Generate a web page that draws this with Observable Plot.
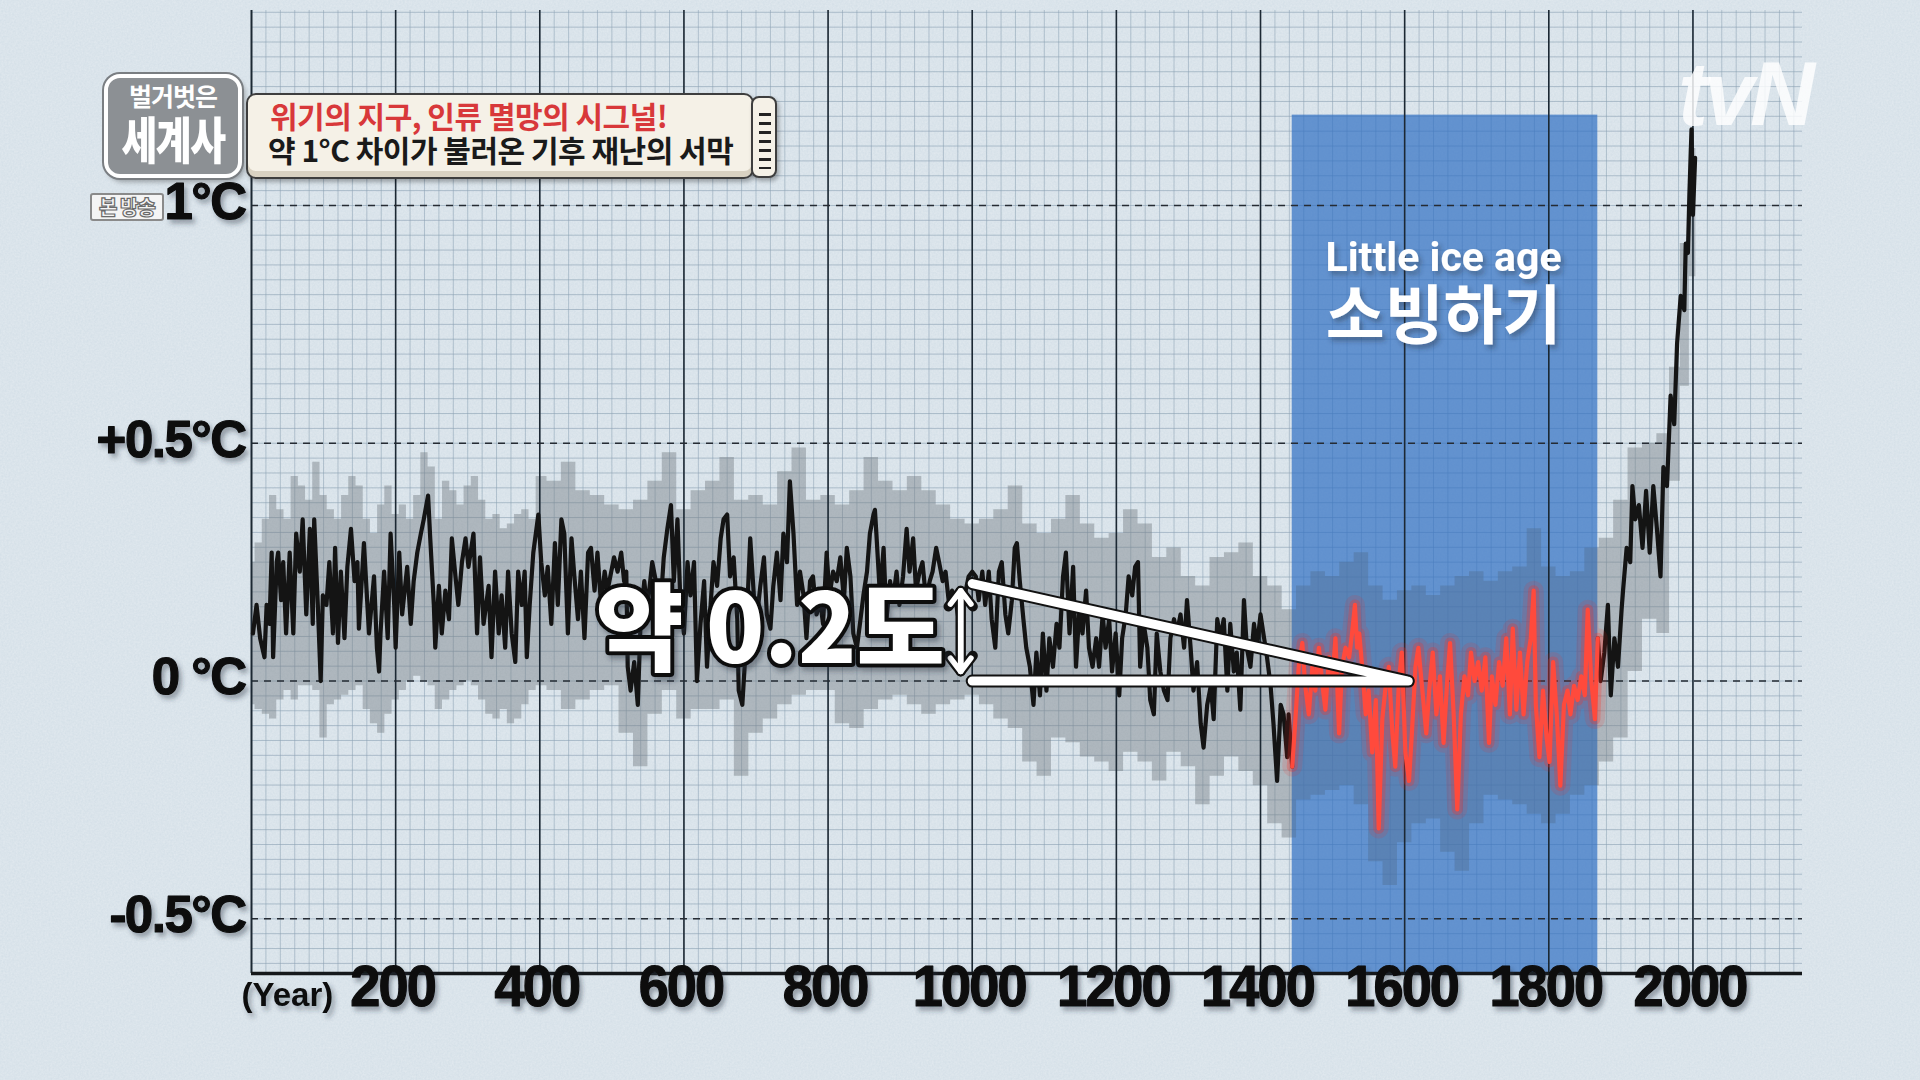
<!DOCTYPE html>
<html><head><meta charset="utf-8">
<script src="https://cdn.jsdelivr.net/npm/d3@7"></script>
<script src="https://cdn.jsdelivr.net/npm/@observablehq/plot@0.6"></script>
<style>
html,body{margin:0;padding:0;width:1920px;height:1080px;overflow:hidden;background:#d5e0e8;}
#wrap{position:relative;width:1920px;height:1080px;
  background-color:#d5e0e8;
  background-image:url("data:image/svg+xml;utf8,<svg xmlns='http://www.w3.org/2000/svg' width='480' height='480'><filter id='n'><feTurbulence type='fractalNoise' baseFrequency='0.55' numOctaves='3' stitchTiles='stitch'/><feColorMatrix values='0 0 0 0 1  0 0 0 0 1  0 0 0 0 1  0 0 0 0.35 -0.05'/></filter><rect width='100%' height='100%' filter='url(%23n)'/></svg>");}
#chart{position:absolute;left:0;top:0;}
.ov{position:absolute;box-sizing:border-box;}
#badge{left:104px;top:74px;width:138px;height:104px;background:#8c9094;border:4px solid #ffffff;border-radius:16px;
  box-shadow:0 0 0 2px #7a7e82, 3px 4px 5px rgba(0,0,0,0.3);text-align:center;color:#fff;font-family:"Noto Sans CJK KR";overflow:hidden;}
#badge .t1{font-size:25px;font-weight:700;line-height:26px;margin-top:4px;letter-spacing:-1px;white-space:nowrap;}
#badge .t2{font-size:50px;font-weight:900;line-height:58px;white-space:nowrap;transform:scaleX(0.78);letter-spacing:-2px;margin-left:-20px;margin-right:-20px;}
#onair{left:90px;top:193px;width:74px;height:28px;background:#f4f4f4;border:2px solid #8a8a8a;border-radius:3px;
  font-family:"Noto Sans CJK KR";font-weight:900;font-size:20px;line-height:23px;text-align:center;color:#f4f4f4;
  -webkit-text-stroke:1.2px #6a6a6a;letter-spacing:-1px;white-space:nowrap;}
#caption{left:246px;top:93px;width:508px;height:86px;background:#f5f1e7;border:2px solid #3e3e3e;border-radius:10px;
  box-shadow:inset 0 -6px 0 #d9d2c2, 2px 3px 4px rgba(0,0,0,0.3);font-family:"Noto Sans CJK KR";font-weight:700;}
#caption .c1{position:absolute;left:22px;top:4px;font-size:30px;line-height:32px;color:#d8383a;white-space:nowrap;letter-spacing:-0.5px;}
#caption .c2{position:absolute;left:20px;top:38px;font-size:30px;line-height:32px;color:#1a1a1a;white-space:nowrap;letter-spacing:-0.5px;}
#tab{left:751px;top:96px;width:26px;height:82px;background:#f5f1e7;border:2px solid #3e3e3e;border-radius:8px;
  background-image:repeating-linear-gradient(to bottom,transparent 0 6px,#222 6px 9px);background-size:12px 62px;background-repeat:no-repeat;background-position:6px 9px;
  box-shadow:2px 3px 4px rgba(0,0,0,0.3);}
#tvn{left:1678px;top:50px;font-family:"Liberation Sans",Arial,sans-serif;font-style:italic;font-weight:700;font-size:90px;
  color:rgba(255,255,255,0.82);letter-spacing:-4px;line-height:88px;}
</style></head>
<body><div id="wrap"><div id="chart"></div>
<div class="ov" id="badge"><div class="t1">벌거벗은</div><div class="t2">세계사</div></div>
<div class="ov" id="onair">본 방송</div>
<div class="ov" id="caption"><div class="c1">위기의 지구, 인류 멸망의 시그널!</div><div class="c2">약 1°C 차이가 불러온 기후 재난의 서막</div></div>
<div class="ov" id="tab"></div>
<div class="ov" id="tvn">tvN</div>
</div>
<script>
// ---- data ----
const tempSeries = [
[2,0.10],[7,0.16],[12,0.09],[18,0.05],[21,0.16],[25,0.12],[28,0.27],[30,0.05],[35,0.25],[37,0.27],[41,0.17],[44,0.25],[48,0.10],[53,0.27],[58,0.10],[62,0.31],[67,0.23],[71,0.34],[76,0.14],[81,0.32],[85,0.12],[87,0.34],[92,0.16],[96,0.00],[99,0.18],[104,0.16],[108,0.25],[113,0.10],[116,0.28],[120,0.08],[124,0.23],[129,0.09],[133,0.24],[138,0.32],[143,0.21],[147,0.25],[149,0.11],[156,0.29],[163,0.10],[170,0.22],[174,0.07],[177,0.02],[179,0.10],[184,0.23],[189,0.09],[193,0.31],[198,0.16],[200,0.07],[205,0.27],[209,0.14],[216,0.24],[221,0.12],[225,0.21],[230,0.27],[235,0.31],[239,0.34],[245,0.39],[248,0.30],[253,0.16],[255,0.07],[260,0.20],[264,0.10],[269,0.19],[274,0.13],[278,0.30],[283,0.22],[287,0.16],[292,0.25],[297,0.30],[301,0.24],[308,0.31],[313,0.10],[317,0.26],[322,0.12],[329,0.20],[333,0.05],[338,0.23],[343,0.10],[347,0.18],[352,0.07],[356,0.23],[361,0.10],[366,0.04],[370,0.23],[375,0.16],[379,0.23],[382,0.05],[386,0.16],[391,0.27],[398,0.35],
[402,0.25],[407,0.18],[411,0.24],[416,0.12],[421,0.29],[425,0.16],[430,0.34],[434,0.31],[439,0.10],[444,0.30],[448,0.22],[453,0.13],[457,0.23],[462,0.09],[467,0.27],[471,0.28],[476,0.19],[480,0.27],[485,0.16],[490,0.23],[494,0.19],[503,0.26],[508,0.23],[513,0.27],[517,0.21],[520,0.23],[522,0.03],[526,-0.02],[531,0.04],[536,-0.05],[540,0.13],[545,0.21],[549,0.15],[556,0.25],[561,0.21],[566,0.12],[572,0.26],[577,0.32],[582,0.37],[586,0.21],[591,0.34],[595,0.17],[600,0.10],[605,0.25],[609,0.18],[614,0.25],[618,0.00],[623,0.12],[628,0.21],[632,0.03],[637,0.16],[641,0.25],[646,0.20],[651,0.30],[655,0.34],[660,0.35],[664,0.22],[669,0.26],[674,0.13],[676,-0.02],[681,-0.05],[685,0.05],[690,0.23],[692,0.30],[697,0.18],[701,0.13],[706,0.20],[711,0.26],[715,0.14],[720,0.11],[724,0.20],[729,0.27],[734,0.17],[738,0.31],[743,0.25],[747,0.42],[752,0.31],[757,0.16],[761,0.23],[766,0.18],[770,0.09],[775,0.21],[779,0.22],[784,0.14],[789,0.17],[793,0.12],[798,0.27],[802,0.18],[807,0.23],
[812,0.21],[817,0.26],[822,0.17],[826,0.28],[831,0.22],[835,0.10],[840,0.07],[845,0.13],[849,0.18],[854,0.23],[858,0.31],[863,0.35],[865,0.36],[867,0.31],[872,0.18],[877,0.28],[881,0.13],[886,0.21],[890,0.17],[895,0.23],[899,0.16],[904,0.22],[909,0.32],[913,0.23],[918,0.30],[922,0.19],[927,0.23],[931,0.25],[936,0.17],[941,0.21],[945,0.23],[950,0.28],[954,0.25],[959,0.21],[963,0.23],[968,0.16],[972,0.19],[977,0.17],[981,0.13],[986,0.16],[991,0.19],[995,0.22],[1000,0.23],[1005,0.22],[1009,0.17],[1014,0.23],[1018,0.16],[1023,0.23],[1027,0.13],[1032,0.07],[1037,0.23],[1041,0.25],[1046,0.14],[1050,0.10],[1055,0.17],[1059,0.28],[1062,0.29],[1066,0.21],[1071,0.13],[1075,0.07],[1080,0.03],[1085,-0.05],[1089,0.06],[1094,-0.03],[1098,0.10],[1103,-0.02],[1107,0.09],[1112,0.03],[1117,0.12],[1121,0.07],[1126,0.22],[1130,0.27],[1135,0.10],[1140,0.24],[1144,0.03],[1149,0.16],[1153,0.10],[1158,0.19],[1162,0.07],[1167,0.03],[1172,0.09],[1176,0.03],[1181,0.14],[1185,0.07],[1190,0.13],[1194,0.02],[1199,0.10],[1204,-0.03],[1208,0.09],[1213,0.14],[1217,0.22],
[1222,0.18],[1226,0.24],[1230,0.25],[1233,0.03],[1238,0.12],[1243,0.07],[1247,-0.04],[1252,-0.07],[1256,0.10],[1261,0.02],[1266,-0.02],[1271,-0.04],[1275,0.09],[1280,0.13],[1284,0.10],[1289,0.14],[1294,0.07],[1298,0.17],[1303,0.07],[1307,-0.02],[1312,0.04],[1317,-0.09],[1321,-0.14],[1326,-0.05],[1331,-0.01],[1335,-0.08],[1340,0.13],[1344,0.09],[1349,0.13],[1354,-0.02],[1358,0.12],[1363,0.02],[1367,0.06],[1372,-0.06],[1377,0.17],[1381,0.07],[1386,0.03],[1391,0.12],[1395,0.07],[1400,0.14],[1405,0.09],[1409,0.05],[1414,-0.01],[1418,-0.09],[1423,-0.21],[1428,-0.05],[1432,-0.07],[1437,-0.16],[1439,-0.07],[1444,-0.18],
[1448,-0.09],[1453,0.03],[1458,0.08],[1462,-0.01],[1467,-0.07],[1472,0.03],[1476,-0.02],[1481,0.07],[1486,-0.01],[1490,-0.06],[1495,0.05],[1499,-0.01],[1504,0.09],[1509,-0.11],[1513,0.03],[1518,0.07],[1523,0.05],[1527,0.10],[1531,0.16],[1534,0.07],[1537,0.10],[1541,0.03],[1546,-0.07],[1550,-0.02],[1555,-0.15],[1560,-0.04],[1564,-0.31],[1569,-0.08],[1573,-0.02],[1578,0.03],[1583,-0.11],[1587,-0.18],[1592,0.00],[1596,0.06],[1601,-0.15],[1606,-0.21],[1610,-0.11],[1615,0.03],[1619,0.07],[1624,-0.01],
[1630,-0.11],[1634,-0.02],[1639,0.06],[1644,-0.07],[1649,0.01],[1654,-0.13],[1659,0.00],[1663,0.08],[1668,-0.07],[1673,-0.27],[1678,-0.07],[1683,0.01],[1688,-0.03],[1692,0.06],[1697,0.00],[1702,0.04],[1707,-0.02],[1712,0.05],[1717,-0.13],[1721,0.01],[1726,-0.05],[1731,0.04],[1736,-0.01],[1741,0.09],[1746,-0.07],[1750,0.11],[1755,-0.06],[1760,0.06],[1765,-0.07],[1770,0.04],[1775,0.09],[1779,0.19],[1782,-0.05],[1787,-0.16],[1792,-0.02],[1797,-0.12],[1801,-0.17],[1806,0.04],[1811,-0.07],[1816,-0.22],[1821,-0.05],[1826,-0.02],[1830,-0.07],[1835,-0.01],[1840,-0.04],[1845,0.01],[1850,-0.03],[1854,0.15],[1859,0.00],[1864,-0.08],[1868,0.09],
[1872,0.00],[1877,0.06],[1882,0.16],[1886,-0.03],[1891,0.09],[1896,0.03],[1901,0.15],[1903,0.19],[1908,0.28],[1913,0.25],[1916,0.41],[1920,0.34],[1925,0.37],[1930,0.28],[1935,0.40],[1940,0.27],[1945,0.41],[1950,0.32],[1955,0.22],[1959,0.45],[1964,0.41],[1969,0.60],[1974,0.54],[1978,0.71],[1983,0.81],[1988,0.78],[1990,0.92],[1993,0.90],[1995,1.02],[1998,1.16],[2000,0.98],[2003,1.10]
];

const bandYears = [0,10,20,30,40,50,60,70,80,90,100,110,120,130,140,150,160,170,180,190,200,210,220,230,240,250,260,270,280,290,300,310,320,330,340,350,360,370,380,390,400,420,440,460,480,500,520,540,560,580,600,620,640,660,680,700,720,740,760,780,800,820,840,860,880,900,920,940,960,980,1000,1020,1040,1060,1080,1100,1120,1140,1160,1180,1200,1220,1240,1260,1280,1300,1320,1340,1360,1380,1400,1420,1440,1460,1480,1500,1520,1540,1560,1580,1600,1620,1640,1660,1680,1700,1720,1740,1760,1780,1800,1820,1840,1860,1880,1900,1920,1940,1960,1975,1990,2000,2004];
const bandHigh  = [0.25,0.29,0.34,0.39,0.36,0.34,0.43,0.41,0.38,0.46,0.39,0.36,0.34,0.39,0.43,0.41,0.34,0.31,0.37,0.41,0.35,0.37,0.34,0.39,0.48,0.45,0.34,0.42,0.40,0.37,0.41,0.43,0.38,0.34,0.35,0.32,0.33,0.35,0.36,0.34,0.43,0.42,0.46,0.40,0.39,0.37,0.36,0.38,0.42,0.48,0.36,0.40,0.42,0.47,0.38,0.39,0.37,0.44,0.49,0.38,0.39,0.37,0.40,0.47,0.42,0.40,0.43,0.40,0.37,0.34,0.33,0.34,0.36,0.41,0.33,0.31,0.34,0.39,0.33,0.30,0.31,0.36,0.33,0.26,0.28,0.22,0.20,0.26,0.27,0.29,0.22,0.20,0.15,0.20,0.23,0.22,0.25,0.27,0.20,0.17,0.19,0.20,0.18,0.20,0.22,0.23,0.21,0.23,0.24,0.32,0.24,0.22,0.23,0.28,0.30,0.38,0.49,0.50,0.52,0.66,0.92,1.12,1.12];
const bandLow   = [-0.05,-0.06,-0.07,-0.08,-0.04,-0.02,-0.04,-0.01,-0.01,-0.02,-0.12,-0.05,-0.04,-0.03,-0.02,-0.01,-0.06,-0.09,-0.11,-0.07,-0.04,-0.02,0.00,0.01,0.00,-0.01,-0.06,-0.04,-0.02,-0.01,0.00,-0.01,-0.04,-0.07,-0.08,-0.06,-0.09,-0.08,-0.05,-0.02,-0.01,-0.02,-0.06,-0.04,-0.02,-0.01,-0.11,-0.18,-0.07,-0.02,-0.08,-0.06,-0.06,-0.04,-0.20,-0.11,-0.08,-0.05,-0.03,-0.02,-0.02,-0.09,-0.10,-0.06,-0.04,-0.03,-0.05,-0.07,-0.05,-0.04,-0.03,-0.05,-0.08,-0.10,-0.17,-0.20,-0.12,-0.13,-0.16,-0.17,-0.19,-0.15,-0.17,-0.21,-0.15,-0.18,-0.26,-0.20,-0.16,-0.19,-0.22,-0.30,-0.33,-0.25,-0.24,-0.23,-0.22,-0.26,-0.38,-0.43,-0.34,-0.30,-0.29,-0.36,-0.40,-0.30,-0.24,-0.25,-0.26,-0.28,-0.30,-0.28,-0.24,-0.22,-0.17,-0.12,0.02,0.13,0.10,0.42,0.62,0.85,0.85];

const xTicks = [200,400,600,800,1000,1200,1400,1600,1800,2000];
const yTicks = [-0.5, 0, 0.5, 1];
const yTickLabels = ["-0.5°C", "0 °C", "+0.5°C", "1°C"];
const iceAge = {start: 1444, end: 1868, top: 1.19};
const diffWedge = [[1000, 0.205], [1605, 0], [1000, 0]];
const diffArrow = [{year: 984, from: 0.02, to: 0.19}, {year: 984, from: 0.19, to: 0.02}];
const labels = {diff: "약 0.2도", liaEn: "Little ice age", liaKo: "소빙하기", year: "(Year)"};

const xDomain = [0, 2152];
const yDomain = [-0.615, 1.41];

const series = tempSeries.map(([year, temp]) => ({year, temp}));
const earlySeries = series.filter(d => d.year <= iceAge.start);
const iceSeries = series.filter(d => d.year >= iceAge.start && d.year <= iceAge.end);
const lateSeries = series.filter(d => d.year >= iceAge.end);
const band = bandYears.map((year, i) => ({year, hi: bandHigh[i], lo: bandLow[i]}));
const minorX = d3.range(0, 2150, 20);
const minorY = d3.range(-19, 46).map(i => i / 32);

const tickFont = "'Liberation Sans', Arial, sans-serif";
const koFont = "'Noto Sans CJK KR', sans-serif";
const lineOpts = {x: "year", y: "temp", strokeLinejoin: "round", strokeLinecap: "round"};

const chart = Plot.plot({
  width: 1920, height: 1080,
  marginLeft: 251, marginRight: 118, marginTop: 10, marginBottom: 107,
  style: {background: "transparent", overflow: "visible"},
  x: {domain: xDomain, axis: null},
  y: {domain: yDomain, axis: null},
  marks: [
    Plot.ruleX(minorX, {x: d => d, stroke: "#8aa0b2", strokeOpacity: 0.55, strokeWidth: 1}),
    Plot.ruleY(minorY, {y: d => d, stroke: "#8aa0b2", strokeOpacity: 0.6, strokeWidth: 1}),
    Plot.areaY(band, {x: "year", y1: "lo", y2: "hi", fill: "#8a9196", fillOpacity: 0.3, curve: "step"}),
    Plot.rect([iceAge], {x1: "start", x2: "end", y1: yDomain[0], y2: "top", fill: "#2f6fc3", fillOpacity: 0.7}),
    Plot.areaY(band, {x: "year", y1: "lo", y2: "hi", fill: "#5b6570", fillOpacity: 0.2, curve: "step"}),
    Plot.ruleX(xTicks, {x: d => d, stroke: "#1c2833", strokeWidth: 1.6}),
    Plot.ruleY(yTicks, {y: d => d, stroke: "#252b33", strokeWidth: 1.6, strokeDasharray: "7,6"}),
    Plot.ruleX([0], {x: d => d, stroke: "#1c2833", strokeWidth: 2}),
    Plot.ruleY([yDomain[0]], {y: d => d, stroke: "#15181b", strokeWidth: 3.5}),
    Plot.line(earlySeries, {...lineOpts, stroke: "#141414", strokeWidth: 4.2}),
    Plot.line(lateSeries, {...lineOpts, stroke: "#141414", strokeWidth: 4.2}),
    // little-ice-age segment with a red glow
    Plot.line(iceSeries, {...lineOpts, stroke: "#ff2418", strokeWidth: 20, strokeOpacity: 0.12}),
    Plot.line(iceSeries, {...lineOpts, stroke: "#ff2a1e", strokeWidth: 11, strokeOpacity: 0.25}),
    Plot.line(iceSeries, {...lineOpts, stroke: "#ff4a3c", strokeWidth: 4.2}),
    // 0.2 degree wedge
    Plot.line(diffWedge, {x: d => d[0], y: d => d[1], stroke: "#111", strokeWidth: 13, strokeLinejoin: "round"}),
    Plot.line(diffWedge, {x: d => d[0], y: d => d[1], stroke: "#fff", strokeWidth: 9, strokeLinejoin: "round"}),
    Plot.arrow(diffArrow, {x1: "year", x2: "year", y1: "from", y2: "to", stroke: "#111", strokeWidth: 10, headLength: 3, headAngle: 75}),
    Plot.arrow(diffArrow, {x1: "year", x2: "year", y1: "from", y2: "to", stroke: "#fff", strokeWidth: 5.5, headLength: 4.6, headAngle: 75}),
    Plot.text([labels.diff], {x: 962, y: 0.102, text: d => d, textAnchor: "end", fontSize: 96, fontWeight: 900, fontFamily: koFont, fill: "#fff", stroke: "#111", strokeWidth: 8}),
    Plot.text([labels.liaEn], {x: 1654, y: 0.89, text: d => d, fontSize: 41, fontWeight: 700, fontFamily: "Roboto, 'Noto Sans', sans-serif", fill: "#fff"}),
    Plot.text([labels.liaKo], {x: 1654, y: 0.765, text: d => d, fontSize: 64, fontWeight: 700, fontFamily: koFont, fill: "#fff"}),
    // tick labels
    Plot.text(xTicks, {x: d => d, text: d => String(d), frameAnchor: "bottom", dy: 32, dx: -3, fontSize: 57, fontWeight: 700, fontFamily: tickFont, fill: "#0b0b0b", stroke: "#0b0b0b", strokeWidth: 1.2}),
    Plot.text(yTicks, {y: d => d, text: (d, i) => yTickLabels[i], frameAnchor: "left", textAnchor: "end", dx: -6, dy: -3, fontSize: 51, fontWeight: 700, fontFamily: tickFont, fill: "#0b0b0b", stroke: "#0b0b0b", strokeWidth: 1.2}),
    Plot.text([labels.year], {frameAnchor: "bottom-left", text: d => d, textAnchor: "start", dx: -10, dy: 32, fontSize: 33, fontWeight: 700, fontFamily: tickFont, fill: "#111"})
  ]
});
document.getElementById("chart").appendChild(chart);

// soft shadow (bounding-box relative, so it follows each text's own transform)
const svg = d3.select(chart);
const defs = svg.insert("defs", ":first-child");
const shadow = defs.append("filter").attr("id", "softShadow")
  .attr("x", "-20%").attr("y", "-30%").attr("width", "150%").attr("height", "170%");
shadow.append("feDropShadow").attr("dx", 3).attr("dy", 4).attr("stdDeviation", 2.5)
  .attr("flood-color", "#28323c").attr("flood-opacity", 0.4);
const xTickText = xTicks.map(String);
const shadowed = new Set([...xTickText, ...yTickLabels, labels.year, labels.liaEn, labels.liaKo, labels.diff]);
svg.selectAll("text").each(function() {
  const s = this.textContent;
  if (!shadowed.has(s)) return;
  this.setAttribute("filter", "url(#softShadow)");
  if (xTickText.includes(s)) {
    this.style.letterSpacing = "-2px";
    const t = this.getAttribute("transform");
    if (t && t.includes("translate")) this.setAttribute("transform", t + " scale(0.95,1)");
  } else if (yTickLabels.includes(s)) {
    this.style.letterSpacing = "-1.5px";
  }
});
</script>
</body></html>
